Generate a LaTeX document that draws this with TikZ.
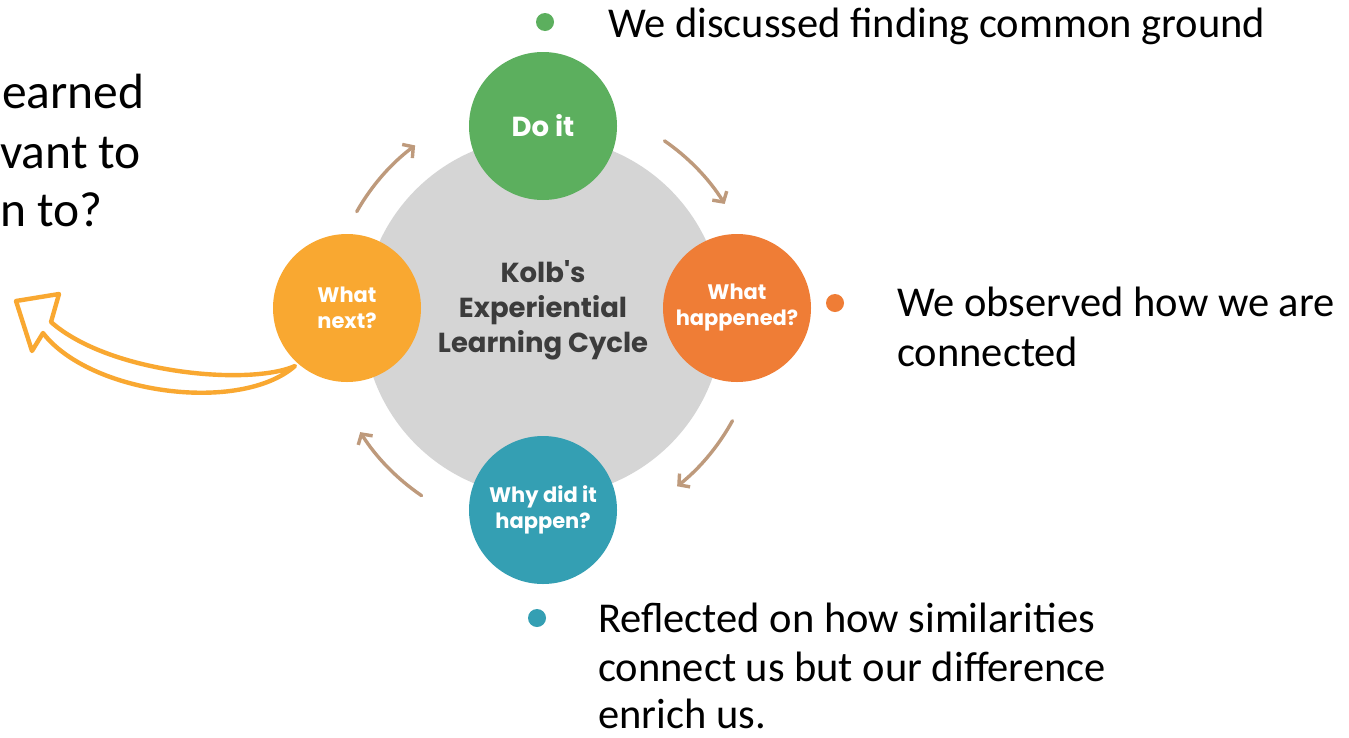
\documentclass[tikz,border=0pt]{standalone}
\usepackage{fontspec}
\setmainfont{Carlito}
\newfontfamily\popfont{Poppins}
\usetikzlibrary{arrows.meta,calc}

\definecolor{doGreen}{HTML}{5CAF5E}
\definecolor{happOrange}{HTML}{EF7D36}
\definecolor{nextYellow}{HTML}{F9A831}
\definecolor{whyTeal}{HTML}{349FB3}
\definecolor{cycleGray}{HTML}{D5D5D5}
\definecolor{arrowTan}{HTML}{BE9A7C}
\definecolor{kolbText}{HTML}{3C3C3C}

\begin{document}
\begin{tikzpicture}[x=1pt,y=-1pt,
  stage/.style={circle,minimum size=148pt,inner sep=0pt,align=center,text=white,
    font=\popfont\bfseries\fontsize{21}{26}\selectfont},
  cyc/.style={draw=arrowTan,line width=3.4pt,line cap=round,
    -{Straight Barb[length=7.5pt,width=17pt]}},
  bodytext/.style={anchor=base west,inner sep=0pt,font=\fontsize{42.5}{50}\selectfont},
  sidetext/.style={anchor=base west,inner sep=0pt,font=\fontsize{49.5}{59}\selectfont},
  bullet/.style={circle,minimum size=18pt,inner sep=0pt}
]
\clip (0,0) rectangle (1349,737);
\fill[white] (0,0) rectangle (1349,737);

% central disc and title
\node[circle,fill=cycleGray,minimum size=360pt,inner sep=0pt] (hub) at (543,317) {};
\node[align=center,text=kolbText,font=\popfont\bfseries\fontsize{27.5}{35}\selectfont]
  (title) at (543,310) {Kolb's\\Experiential\\Learning Cycle};

% four stages
\node[stage,fill=doGreen,font=\popfont\bfseries\fontsize{27.5}{30}\selectfont] (doit) at (543,126) {Do it};
\node[stage,fill=happOrange] (happened) at (737,308) {What\\happened?};
\node[stage,fill=whyTeal] (why) at (543,510) {Why did it\\happen?};
\node[stage,fill=nextYellow] (next) at (347,308) {What\\next?};

% curved arrows around the cycle
\coordinate (a1) at ($(hub)+(-150.5:214)$);
\coordinate (a2) at ($(hub)+(-55.4:214)$);
\coordinate (a3) at ($(hub)+(28.7:216)$);
\coordinate (a4) at ($(hub)+(124.2:216)$);
\draw[cyc] (a1) arc[start angle=-150.5,end angle=-126.7,radius=214];
\draw[cyc] (a2) arc[start angle=-55.4,end angle=-31.9,radius=214];
\draw[cyc] (a3) arc[start angle=28.7,end angle=51.6,radius=216];
\draw[cyc] (a4) arc[start angle=124.2,end angle=147.8,radius=216];

% hand-drawn outline arrow leaving "What next?"
\coordinate (tail) at (295,366);
\draw[nextYellow,line width=4.4pt,line join=round,line cap=round,fill=white]
  (tail) .. controls (250,386) and (110,374) .. (51,322)
  -- (59,294) -- (16,301) -- (32,351) -- (43,333)
  .. controls (90,394) and (240,414) .. (tail) -- cycle;

% text beside the stages
\node[sidetext] (l1) at (2,108) {earned};
\node[sidetext] (l2) at (0,168) {vant to};
\node[sidetext] (l3) at (0,226) {n to?};

\node[bullet,fill=doGreen] (b1) at (545,22) {};
\node[bodytext] (t1) at (608,37) {We discussed finding common ground};

\node[bullet,fill=happOrange] (b2) at (835,303) {};
\node[bodytext] (t2a) at (897,316) {We observed how we are};
\node[bodytext] (t2b) at (897,366) {connected};

\node[bullet,fill=whyTeal] (b3) at (537,618) {};
\node[bodytext] (t3a) at (598,632) {Reflected on how similarities};
\node[bodytext] (t3b) at (598,681) {connect us but our difference};
\node[bodytext] (t3c) at (598,728) {enrich us.};
\end{tikzpicture}
\end{document}
